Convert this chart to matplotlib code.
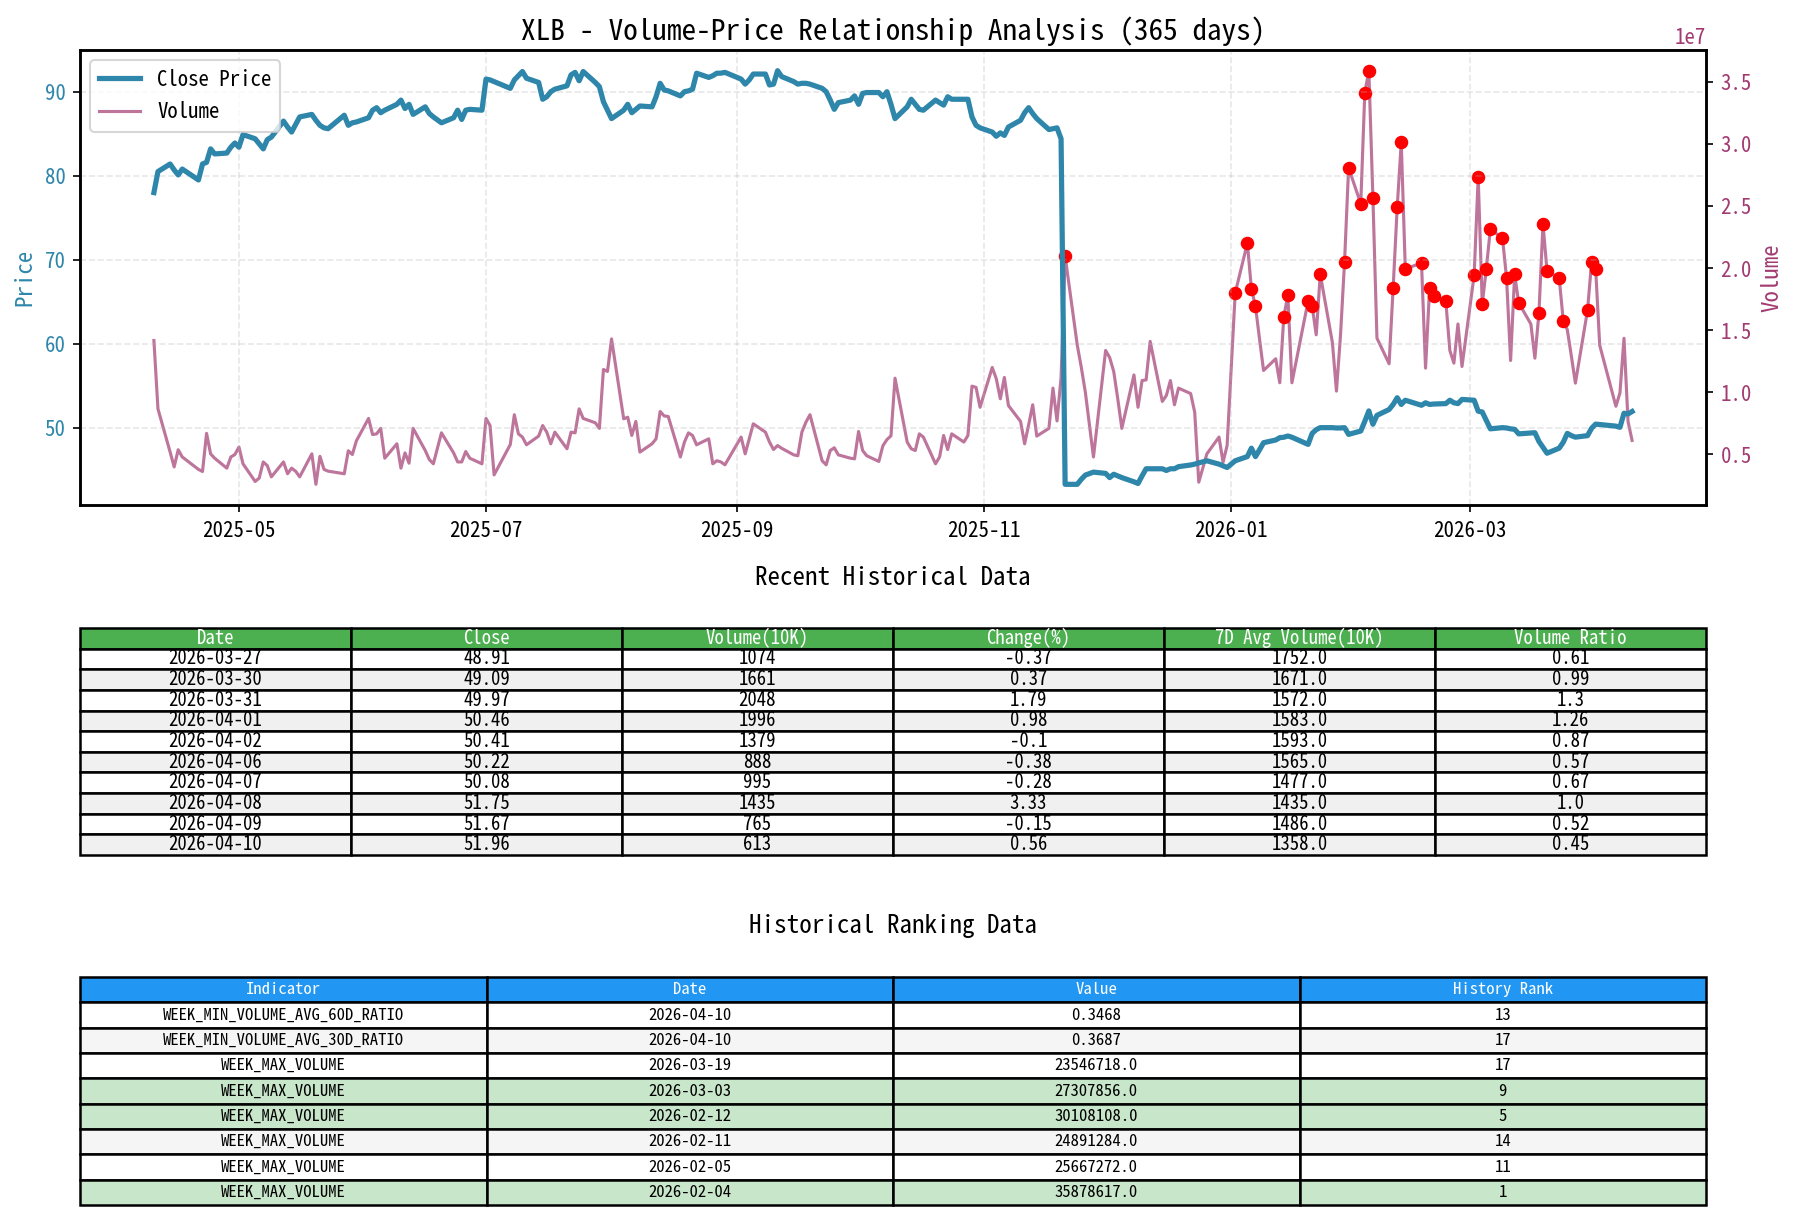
import numpy as np
import pandas as pd
import matplotlib
matplotlib.use('Agg')
import matplotlib.pyplot as plt
import matplotlib.dates as mdates

plt.rcParams['font.family'] = ['Noto Sans Mono CJK SC', 'Noto Sans CJK SC', 'DejaVu Sans']
plt.rcParams['axes.unicode_minus'] = False

# trading days 2025-04-10 .. 2026-04-10 (US market holidays removed)
holidays = ['2025-04-18', '2025-05-26', '2025-06-19', '2025-07-04', '2025-09-01',
            '2025-11-27', '2025-12-25', '2026-01-01', '2026-01-19', '2026-02-16',
            '2026-04-03']
dates = pd.bdate_range('2025-04-10', '2026-04-10')
dates = dates[~dates.isin(pd.to_datetime(holidays))]

close = [
    # Apr 2025
    78.0, 80.5, 81.4, 80.7, 80.1, 80.8, 79.5, 81.4, 81.6, 83.2, 82.6, 82.7, 83.4, 83.9,
    # May
    83.4, 84.9, 84.4, 83.8, 83.2, 84.3, 84.6, 86.5, 85.8, 85.2, 86.1, 87.0, 87.3, 86.6,
    86.0, 85.7, 85.6, 87.2, 86.0, 86.3, 86.4,
    # Jun
    86.9, 87.8, 88.1, 87.5, 87.8, 88.5, 89.0, 88.0, 88.5, 87.3, 88.2, 87.4, 87.0, 86.3,
    86.9, 87.8, 86.7, 87.8, 87.9, 87.8,
    # Jul
    91.5, 91.4, 91.2, 90.4, 91.4, 91.9, 92.4, 91.6, 91.1, 89.1, 89.4, 90.0, 90.3, 90.7,
    92.0, 92.3, 91.3, 92.4, 91.1, 90.6, 88.8, 87.8,
    # Aug
    86.8, 87.8, 88.5, 87.5, 87.9, 88.3, 88.2, 89.4, 91.0, 90.2, 90.1, 89.5, 90.0, 90.1,
    90.3, 92.2, 91.7, 91.9, 92.2, 92.2, 92.3,
    # Sep
    91.5, 90.9, 91.4, 92.1, 92.1, 90.8, 90.9, 92.5, 91.8, 91.2, 90.9, 91.0, 91.0, 90.9,
    90.4, 90.0, 89.0, 87.9, 88.7, 89.0, 89.5,
    # Oct
    88.5, 89.8, 89.9, 89.9, 89.4, 90.0, 88.5, 86.8, 88.2, 89.1, 88.5, 87.9, 87.8, 89.0,
    88.7, 88.4, 89.4, 89.1, 89.1, 89.1, 87.0, 86.0, 85.7,
    # Nov
    85.2, 84.7, 85.1, 84.8, 85.8, 86.6, 87.5, 88.1, 87.4, 86.8, 85.5, 85.6, 85.7, 84.4,
    43.3, 43.3, 43.9, 44.4, 44.75,
    # Dec
    44.6, 44.1, 44.5, 44.3, 44.1, 43.6, 43.4, 44.3, 45.15, 45.15, 45.15, 44.95, 45.15,
    45.15, 45.4, 45.6, 45.7, 45.85, 46.1, 45.7, 45.5, 45.3,
    # Jan 2026
    46.1, 46.6, 47.6, 46.6, 47.4, 48.25, 48.57, 48.85, 48.9, 49.05, 48.9, 48.05, 49.36,
    49.8, 50.04, 50.04, 50.0, 50.0, 50.04, 49.24,
    # Feb
    49.64, 50.8, 52.03, 50.44, 51.5, 52.2, 52.8, 53.6, 52.8, 53.3, 52.7, 53.0, 52.8,
    52.85, 52.9, 53.3, 53.0, 52.9, 53.4,
    # Mar
    53.3, 52.0, 51.9, 50.9, 49.9, 50.04, 50.0, 49.9, 49.84, 49.3, 49.4, 49.44, 48.4,
    47.7, 47.0, 47.6, 48.3, 49.36, 49.09, 48.91, 49.09, 49.97,
    # Apr
    50.46, 50.41, 50.22, 50.08, 51.75, 51.67, 51.96,
]

# volume in units of 10K shares
volume_10k = [
    # Apr 2025
    1417, 867, 520, 400, 538, 480, 380, 363, 670, 505, 470, 390, 480, 500,
    # May
    560, 425, 283, 310, 440, 410, 320, 440, 345, 390, 365, 320, 505, 260, 485, 380,
    366, 345, 530, 500, 610,
    # Jun
    790, 660, 666, 710, 470, 586, 390, 513, 430, 710, 532, 460, 425, 674, 513, 440,
    440, 524, 470, 425,
    # Jul
    790, 733, 336, 580, 820, 666, 640, 578, 648, 733, 680, 586, 680, 546, 680, 674,
    867, 790, 755, 710, 1184, 1168,
    # Aug
    1430, 787, 800, 653, 766, 519, 586, 626, 846, 810, 806, 480, 600, 674, 653, 578,
    626, 425, 450, 440, 417,
    # Sep
    640, 505, 626, 747, 680, 600, 540, 572, 550, 497, 490, 680, 760, 820, 450, 417,
    532, 554, 497, 470, 465,
    # Oct
    685, 532, 490, 444, 570, 620, 650, 1114, 600, 546, 532, 666, 640, 425, 480, 653,
    540, 666, 600, 653, 1050, 1040, 880,
    # Nov
    1200, 1110, 948, 1120, 894, 766, 586, 740, 900, 648, 710, 1034, 770, 1120, 2096,
    1380, 1200, 1000, 480,
    # Dec
    1337, 1280, 1168, 948, 710, 1140, 880, 1095, 1100, 1410, 927, 975, 1095, 900, 1034,
    990, 840, 277, 505, 640, 438, 572,
    # Jan 2026
    1800, 2200, 1833, 1694, 1430, 1176, 1270, 1077, 1610, 1780, 1077, 1734, 1694, 1463,
    1950, 1400, 1010, 1460, 2050, 2807,
    # Feb
    2517, 3410, 3588, 2567, 1436, 1230, 1840, 2489, 3011, 1994, 2040, 1195, 1840, 1774,
    1734, 1337, 1235, 1550, 1208,
    # Mar
    1943, 2731, 1710, 1994, 2313, 2240, 1920, 1256, 1950, 1720, 1550, 1275, 1640, 2355,
    1974, 1920, 1578, 1504, 1293, 1074, 1661, 2048,
    # Apr
    1996, 1379, 888, 995, 1435, 765, 613,
]

high_vol_threshold = 1560  # 10K shares

# recent history table
recent_cols = ['Date', 'Close', 'Volume(10K)', 'Change(%)', '7D Avg Volume(10K)', 'Volume Ratio']
recent_dates = ['2026-03-27', '2026-03-30', '2026-03-31', '2026-04-01', '2026-04-02',
                '2026-04-06', '2026-04-07', '2026-04-08', '2026-04-09', '2026-04-10']
recent_close = ['48.91', '49.09', '49.97', '50.46', '50.41', '50.22', '50.08', '51.75', '51.67', '51.96']
recent_vol = ['1074', '1661', '2048', '1996', '1379', '888', '995', '1435', '765', '613']
recent_chg = ['-0.37', '0.37', '1.79', '0.98', '-0.1', '-0.38', '-0.28', '3.33', '-0.15', '0.56']
recent_avg7 = ['1752.0', '1671.0', '1572.0', '1583.0', '1593.0', '1565.0', '1477.0', '1435.0', '1486.0', '1358.0']
recent_ratio = ['0.61', '0.99', '1.3', '1.26', '0.87', '0.57', '0.67', '1.0', '0.52', '0.45']

# ranking table
rank_cols = ['Indicator', 'Date', 'Value', 'History Rank']
rank_ind = ['WEEK_MIN_VOLUME_AVG_60D_RATIO', 'WEEK_MIN_VOLUME_AVG_30D_RATIO', 'WEEK_MAX_VOLUME',
            'WEEK_MAX_VOLUME', 'WEEK_MAX_VOLUME', 'WEEK_MAX_VOLUME', 'WEEK_MAX_VOLUME', 'WEEK_MAX_VOLUME']
rank_dates = ['2026-04-10', '2026-04-10', '2026-03-19', '2026-03-03', '2026-02-12',
              '2026-02-11', '2026-02-05', '2026-02-04']
rank_vals = ['0.3468', '0.3687', '23546718.0', '27307856.0', '30108108.0',
             '24891284.0', '25667272.0', '35878617.0']
rank_pos = [13, 17, 17, 9, 5, 14, 11, 1]

price_color = '#2E86AB'
vol_color = '#A23B72'

W, H = 1797, 1221
fig = plt.figure(figsize=(W / 150, H / 150), dpi=150)

# ---- price / volume chart ----
ax1 = fig.add_axes([80 / W, 1 - 505 / H, 1626 / W, 455 / H])
ax2 = ax1.twinx()

vol = np.array(volume_10k) * 1e4
ax1.plot(dates, close, color=price_color, linewidth=2.5, label='Close Price', zorder=3)
ax2.plot(dates, vol, color=vol_color, linewidth=1.5, alpha=0.7, label='Volume')
mask = np.array(volume_10k) > high_vol_threshold
ax2.scatter(dates[mask], vol[mask], color='red', s=30, zorder=5)

ax1.set_zorder(ax2.get_zorder() + 1)
ax1.patch.set_visible(False)

ax1.set_ylabel('Price', color=price_color, fontsize=11)
ax2.set_ylabel('Volume', color=vol_color, fontsize=11)
ax1.tick_params(axis='y', labelcolor=price_color, labelsize=10)
ax2.tick_params(axis='y', labelcolor=vol_color, labelsize=10)
ax1.tick_params(axis='x', labelsize=10)
ax2.yaxis.get_offset_text().set_color(vol_color)
ax1.xaxis.set_major_locator(mdates.MonthLocator(bymonth=[1, 3, 5, 7, 9, 11]))
ax1.xaxis.set_major_formatter(mdates.DateFormatter('%Y-%m'))
ax1.grid(True, linestyle='--', alpha=0.3)
for a in (ax1, ax2):
    for s in a.spines.values():
        s.set_linewidth(1.2)

h1, l1 = ax1.get_legend_handles_labels()
h2, l2 = ax2.get_legend_handles_labels()
ax1.legend(h1 + h2, l1 + l2, loc='upper left', fontsize=10)

ax1.set_title('XLB - Volume-Price Relationship Analysis (365 days)', fontsize=14, pad=5)


def draw_table(rect, title, title_y, cols, rows, header_color, row_colors, fontsize):
    tax = fig.add_axes(rect)
    tax.axis('off')
    tbl = tax.table(cellText=rows, colLabels=cols, cellLoc='center', bbox=[0, 0, 1, 1])
    tbl.auto_set_font_size(False)
    tbl.set_fontsize(fontsize)
    for (r, c), cell in tbl.get_celld().items():
        cell.set_edgecolor('black')
        cell.set_linewidth(1.2)
        if r == 0:
            cell.set_facecolor(header_color)
            cell.get_text().set_color('white')
        else:
            cell.set_facecolor(row_colors[r - 1])
    fig.text(rect[0] + rect[2] / 2, title_y, title, ha='center', va='center', fontsize=12)


rows1 = [list(r) for r in zip(recent_dates, recent_close, recent_vol, recent_chg, recent_avg7, recent_ratio)]
colors1 = ['white' if i % 2 == 0 else '#f0f0f0' for i in range(len(rows1))]
draw_table([80 / W, 1 - 855 / H, 1626 / W, 227 / H], 'Recent Historical Data', 1 - 578 / H,
           recent_cols, rows1, '#4CAF50', colors1, 9)

rows2 = [[a, b, c, str(d)] for a, b, c, d in zip(rank_ind, rank_dates, rank_vals, rank_pos)]
colors2 = []
for i, rk in enumerate(rank_pos):
    if rk <= 10:
        colors2.append('#C8E6C9')
    else:
        colors2.append('white' if i % 2 == 0 else '#f5f5f5')
draw_table([80 / W, 1 - 1205 / H, 1626 / W, 228 / H], 'Historical Ranking Data', 1 - 926 / H,
           rank_cols, rows2, '#2196F3', colors2, 8)

fig.savefig('out.png', dpi=150)
